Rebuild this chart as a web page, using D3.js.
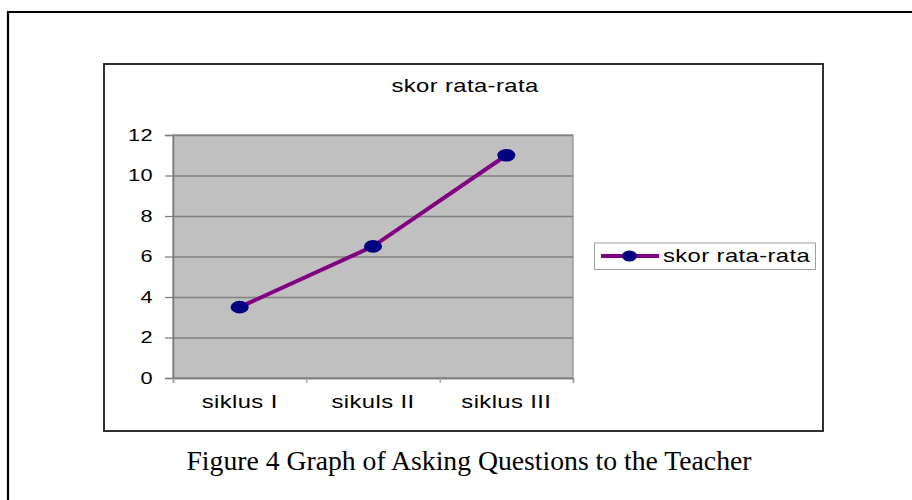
<!DOCTYPE html>
<html>
<head>
<meta charset="utf-8">
<script src="https://cdn.jsdelivr.net/npm/d3@7"></script>
<style>
  body { margin: 0; background: #fff; }
  svg { display: block; }
  .sans { font-family: Arial, "Liberation Sans", sans-serif; fill: #000; letter-spacing: 0.3px; }
</style>
</head>
<body>
<div id="chart"></div>
<script>
const categories = ['siklus I', 'sikuls II', 'siklus III']
const values = [3.5, 6.5, 11]
const yTicks = [0, 2, 4, 6, 8, 10, 12]
const seriesName = 'skor rata-rata'
const chartTitle = 'skor rata-rata'
const caption = 'Figure 4 Graph of Asking Questions to the Teacher'

const W = 912
const H = 500
const stretch = 1.36
const plot = { left: 173, top: 135, right: 573, bottom: 378 }

const svg = d3.select('#chart')
    .append('svg')
    .attr('width', W)
    .attr('height', H)

// outer figure frame (only top and left visible)
svg.append('path')
    .attr('d', `M8,${H} L8,12 L${W},12`)
    .attr('fill', 'none')
    .attr('stroke', '#000')
    .attr('stroke-width', 2.2)

// chart area box
svg.append('rect')
    .attr('x', 104)
    .attr('y', 64)
    .attr('width', 719)
    .attr('height', 367)
    .attr('fill', '#fff')
    .attr('stroke', '#1a1a1a')
    .attr('stroke-width', 1.8)

const xScale = d3.scaleBand().domain(categories).range([plot.left, plot.right])
const yScale = d3.scaleLinear().domain([0, 12]).range([plot.bottom, plot.top])

// plot background
svg.append('rect')
    .attr('x', plot.left)
    .attr('y', plot.top)
    .attr('width', plot.right - plot.left)
    .attr('height', plot.bottom - plot.top)
    .attr('fill', '#c0c0c0')
    .attr('stroke', '#8c8c8c')
    .attr('stroke-width', 1.2)

// gridlines
const grid = svg.append('g')
    .attr('transform', `translate(${plot.left},0)`)
    .call(d3.axisLeft(yScale).tickValues(yTicks).tickSize(-(plot.right - plot.left)).tickFormat(''))
grid.select('.domain').remove()
grid.selectAll('line').attr('stroke', '#808080').attr('stroke-width', 1.4)

// y axis
const yAxis = svg.append('g')
    .attr('transform', `translate(${plot.left},0)`)
    .call(d3.axisLeft(yScale).tickValues(yTicks).tickSize(8).tickFormat(''))
yAxis.select('.domain').attr('stroke', '#7a7a7a').attr('stroke-width', 1.4)
yAxis.selectAll('line').attr('stroke', '#7a7a7a').attr('stroke-width', 1.2)

svg.append('g')
    .selectAll('text')
    .data(yTicks)
    .enter()
    .append('text')
    .attr('class', 'sans')
    .attr('transform', (d) => `translate(153,${yScale(d)}) scale(${stretch},1)`)
    .attr('dy', '0.36em')
    .attr('text-anchor', 'end')
    .style('font-size', '16px')
    .text((d) => d)

// x axis
const xAxis = svg.append('g')
    .attr('transform', `translate(0,${plot.bottom})`)
    .call(d3.axisBottom(d3.scaleLinear().domain([0, 3]).range([plot.left, plot.right])).tickValues([0, 1, 2, 3]).tickSize(5).tickFormat(''))
xAxis.select('.domain').attr('stroke', '#7a7a7a').attr('stroke-width', 1.4)
xAxis.selectAll('line').attr('stroke', '#9a9a9a').attr('stroke-width', 1.2)

svg.append('g')
    .selectAll('text')
    .data(categories)
    .enter()
    .append('text')
    .attr('class', 'sans')
    .attr('transform', (d) => `translate(${xScale(d) + xScale.bandwidth() / 2},408) scale(${stretch},1)`)
    .attr('text-anchor', 'middle')
    .style('font-size', '17.5px')
    .text((d) => d)

// line + markers
const line = d3.line()
    .x((d, i) => xScale(categories[i]) + xScale.bandwidth() / 2)
    .y((d) => yScale(d))

svg.append('path')
    .datum(values)
    .attr('d', line)
    .attr('fill', 'none')
    .attr('stroke', '#800080')
    .attr('stroke-width', 4)

svg.selectAll('.pt')
    .data(values)
    .enter()
    .append('ellipse')
    .attr('class', 'pt')
    .attr('cx', (d, i) => xScale(categories[i]) + xScale.bandwidth() / 2)
    .attr('cy', (d) => yScale(d))
    .attr('rx', 9)
    .attr('ry', 6.3)
    .attr('fill', '#000080')

// title
svg.append('text')
    .attr('class', 'sans')
    .attr('transform', `translate(465,92) scale(${stretch},1)`)
    .attr('text-anchor', 'middle')
    .style('font-size', '17.5px')
    .text(chartTitle)

// legend
const legend = svg.append('g')
legend.append('rect')
    .attr('x', 594.5)
    .attr('y', 243)
    .attr('width', 221)
    .attr('height', 26.5)
    .attr('fill', '#fff')
    .attr('stroke', '#a0a0a0')
    .attr('stroke-width', 1)
legend.append('line')
    .attr('x1', 601)
    .attr('x2', 659)
    .attr('y1', 256)
    .attr('y2', 256)
    .attr('stroke', '#800080')
    .attr('stroke-width', 4)
legend.append('ellipse')
    .attr('cx', 629.5)
    .attr('cy', 256)
    .attr('rx', 7.5)
    .attr('ry', 5.5)
    .attr('fill', '#000080')
legend.append('text')
    .attr('class', 'sans')
    .attr('transform', `translate(663,262) scale(${stretch},1)`)
    .style('font-size', '17.5px')
    .text(seriesName)

// caption
svg.append('text')
    .attr('x', 469)
    .attr('y', 470)
    .attr('text-anchor', 'middle')
    .style('font-family', '"Times New Roman", "Liberation Serif", serif')
    .style('font-size', '27.7px')
    .style('fill', '#000')
    .text(caption)
</script>
</body>
</html>
